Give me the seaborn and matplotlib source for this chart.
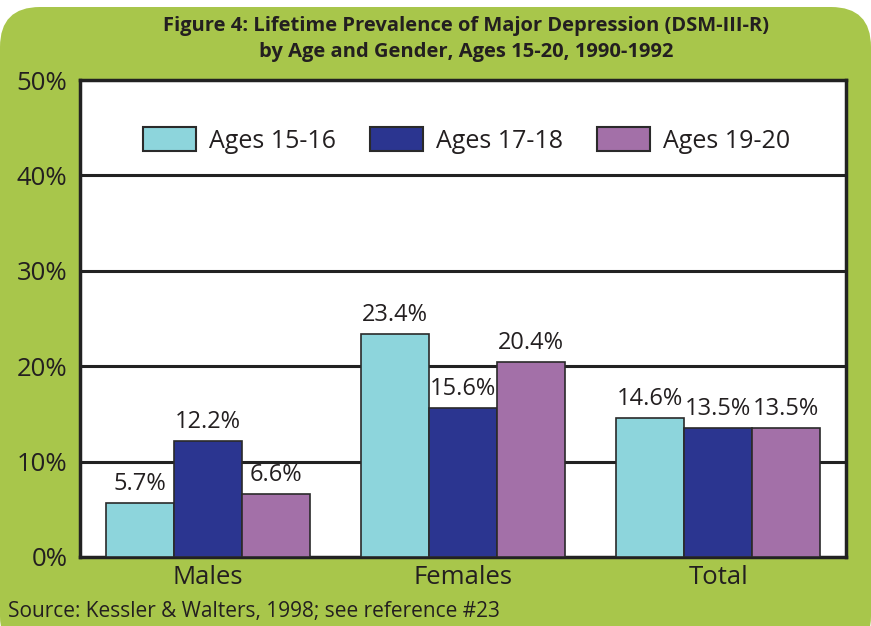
import numpy as np
import pandas as pd
import matplotlib.pyplot as plt
import seaborn as sns
from matplotlib.patches import FancyBboxPatch
from matplotlib.ticker import FixedLocator

# podaci sa slike
groups = ['Males', 'Females', 'Total']
ages = ['Ages 15-16', 'Ages 17-18', 'Ages 19-20']
age_15_16 = [5.7, 23.4, 14.6]
age_17_18 = [12.2, 15.6, 13.5]
age_19_20 = [6.6, 20.4, 13.5]
yticks = [0, 10, 20, 30, 40, 50]

df = pd.DataFrame({'group': groups * 3,
                   'age': [ages[0]] * 3 + [ages[1]] * 3 + [ages[2]] * 3,
                   'value': age_15_16 + age_17_18 + age_19_20})

boja = ['#8DD5DC', '#2B3590', '#A370A8']
tekst = '#231F20'
zelena = '#A8C64B'

sns.set_style('white')
plt.rcParams['font.family'] = ['Open Sans', 'DejaVu Sans']

fig = plt.figure(figsize=(8.71, 6.26), dpi=100)
fig.patch.set_facecolor('white')
pozadina = FancyBboxPatch((0, -0.3), 8.71, 6.49, boxstyle='round,pad=0,rounding_size=0.4',
                          transform=fig.dpi_scale_trans, facecolor=zelena, edgecolor='none', zorder=-10)
fig.patches.append(pozadina)

ax = fig.add_axes([80 / 871, 69 / 626, 766 / 871, 477 / 626])
sns.barplot(data=df, x='group', y='value', hue='age', palette=boja, width=0.8, saturation=1,
            edgecolor='#2a2a2a', linewidth=1.2, ax=ax, zorder=3)

for c in ax.containers:
    ax.bar_label(c, fmt='%.1f%%', padding=5, fontsize=17, color=tekst)

ax.set_ylim(0, 50)
ax.set_xlim(-0.5, 2.5)
ax.set_yticks(yticks)
ax.set_yticklabels([f'{v}%' for v in yticks], fontsize=18.5, color=tekst)
ax.set_xticks(range(3))
ax.set_xticklabels(groups, fontsize=18.5, color=tekst)
ax.tick_params(axis='x', which='major', length=0, pad=6)
ax.tick_params(axis='y', length=0, pad=9)
ax.xaxis.set_minor_locator(FixedLocator([0.5, 1.5]))
ax.tick_params(axis='x', which='minor', direction='in', length=7, width=2, color='#222222')
ax.set_xlabel('')
ax.set_ylabel('')
ax.set_facecolor('white')
for v in [10, 20, 30, 40]:
    ax.axhline(v, color='#222222', lw=2.2, zorder=1)
for s in ax.spines.values():
    s.set_visible(True)
    s.set_color('#222222')
    s.set_linewidth(2.5)

leg = ax.legend(loc='center', bbox_to_anchor=(0.505, 0.874), ncol=3, frameon=False,
                fontsize=18, handlelength=2.1, handleheight=1.15, columnspacing=1.35,
                handletextpad=0.55)
for t in leg.get_texts():
    t.set_color(tekst)
for h in leg.legend_handles:
    h.set_edgecolor('#2a2a2a')
    h.set_linewidth(1.5)

fig.text(0.535, 1 - 39 / 626, 'Figure 4: Lifetime Prevalence of Major Depression (DSM-III-R)\nby Age and Gender, Ages 15-20, 1990-1992',
         ha='center', va='center', fontsize=14.5, fontweight='bold', color=tekst, linespacing=1.35)
fig.text(8 / 871, 1 - 611 / 626, 'Source: Kessler & Walters, 1998; see reference #23',
         ha='left', va='center', fontsize=15, color=tekst)

fig.savefig('out.png', dpi=100, facecolor=fig.get_facecolor())
